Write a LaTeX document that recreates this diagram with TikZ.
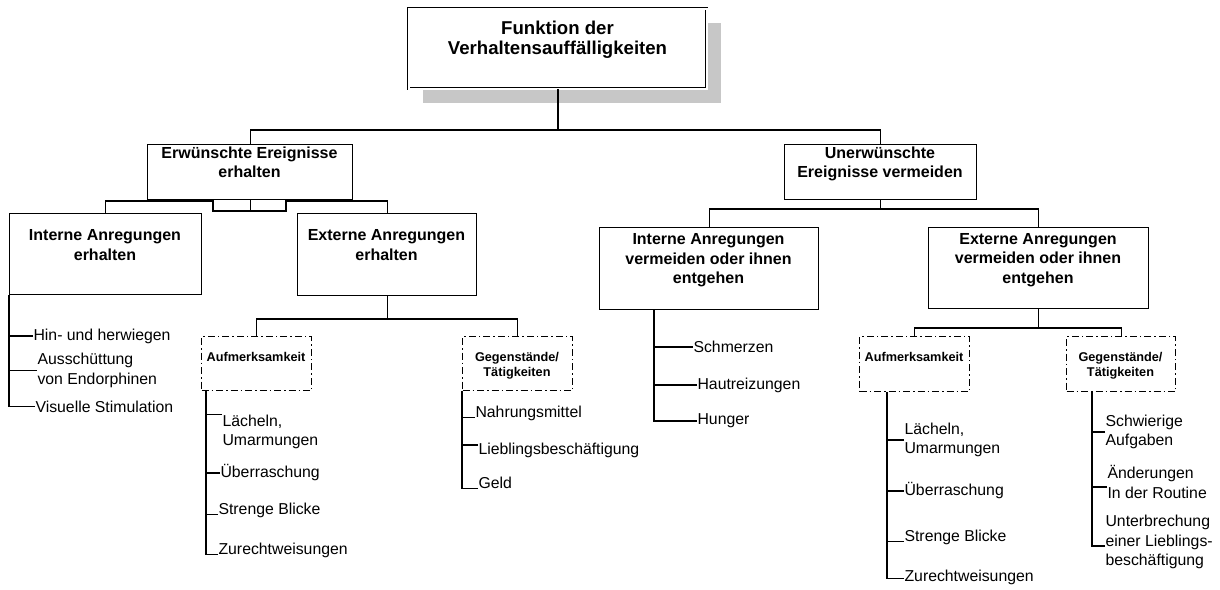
\documentclass[tikz,border=0pt]{standalone}
\usepackage{fontspec}
\setmainfont{Liberation Sans}
\usetikzlibrary{shadows}
\tikzset{
  every picture/.style={line width=1.1pt},
  box/.style 2 args={draw, fill=white, inner sep=0pt, minimum width=#1, minimum height=#2, anchor=north west},
  dbox/.style 2 args={box={#1}{#2}, dash pattern=on 7pt off 3pt on 1.5pt off 3pt},
  title/.style={font=\fontsize{18.6}{20.5}\selectfont\bfseries, align=center, inner sep=0pt, anchor=north},
  hd/.style={font=\fontsize{16}{19.5}\selectfont\bfseries, align=center, inner sep=0pt, anchor=north},
  sm/.style={font=\fontsize{12.7}{15}\selectfont\bfseries, align=center, inner sep=0pt, anchor=north},
  item/.style={font=\fontsize{15.8}{19.5}\selectfont, align=left, inner sep=0pt, anchor=west},
}
\begin{document}
\begin{tikzpicture}[x=1pt, y=1pt]
  \useasboundingbox (0,0) rectangle (1220,-589);
  % boxes
  \node[box={298pt}{80pt}, double, double distance=1.2pt, line width=0.9pt,
        drop shadow={shadow xshift=14pt, shadow yshift=-14pt, fill=black!22, opacity=1}]
        (root) at (408.5,-8.5) {};
  \node[title] (root-t) at (557.5,-20) {Funktion der\\Verhaltensauffälligkeiten};
  \node[box={205pt}{55pt}] (ee) at (147,-144) {};
  \node[hd] (ee-t) at (249.5,-146.3) {Erwünschte Ereignisse\\erhalten};
  \node[box={192pt}{55pt}] (ue) at (784,-144) {};
  \node[hd] (ue-t) at (880,-146.3) {Unerwünschte\\Ereignisse vermeiden};
  \node[box={192pt}{81pt}] (ie) at (9,-213) {};
  \node[hd] (ie-t) at (105,-229.3) {Interne Anregungen\\erhalten};
  \node[box={179pt}{82pt}] (ee2) at (297,-213) {};
  \node[hd] (ee2-t) at (386.5,-229.3) {Externe Anregungen\\erhalten};
  \node[box={219pt}{82pt}] (iv) at (599,-227) {};
  \node[hd] (iv-t) at (708.5,-233.3) {Interne Anregungen\\vermeiden oder ihnen\\entgehen};
  \node[box={220pt}{81pt}] (ev) at (928,-227) {};
  \node[hd] (ev-t) at (1038,-232.5) {Externe Anregungen\\vermeiden oder ihnen\\entgehen};
  \node[dbox={110pt}{54pt}] (am1) at (201,-336) {};
  \node[sm] (am1-t) at (256,-351.5) {Aufmerksamkeit};
  \node[dbox={110pt}{54pt}] (gt1) at (462,-336) {};
  \node[sm] (gt1-t) at (517,-351.5) {Gegenstände/\\Tätigkeiten};
  \node[dbox={110pt}{55pt}] (am2) at (859,-336) {};
  \node[sm] (am2-t) at (914,-351.5) {Aufmerksamkeit};
  \node[dbox={109pt}{55pt}] (gt2) at (1066,-336) {};
  \node[sm] (gt2-t) at (1120.5,-351.5) {Gegenstände/\\Tätigkeiten};
  % list items
  \node[item] (hin) at (33,-336) {Hin- und herwiegen};
  \node[item] (aus) at (37,-370.5) {Ausschüttung\\von Endorphinen};
  \node[item] (vis) at (35,-406.5) {Visuelle Stimulation};
  \node[item] (lae1) at (222,-432) {Lächeln,\\Umarmungen};
  \node[item] (ueb1) at (220,-473) {Überraschung};
  \node[item] (str1) at (218,-510) {Strenge Blicke};
  \node[item] (zur1) at (218,-550) {Zurechtweisungen};
  \node[item] (nah) at (475,-413) {Nahrungsmittel};
  \node[item] (lie) at (478,-450) {Lieblingsbeschäftigung};
  \node[item] (geld) at (478,-483) {Geld};
  \node[item] (sch) at (693,-347) {Schmerzen};
  \node[item] (hau) at (697,-385) {Hautreizungen};
  \node[item] (hun) at (697,-421) {Hunger};
  \node[item] (lae2) at (904,-440) {Lächeln,\\Umarmungen};
  \node[item] (ueb2) at (904,-491) {Überraschung};
  \node[item] (str2) at (904,-537) {Strenge Blicke};
  \node[item] (zur2) at (904,-577) {Zurechtweisungen};
  \node[item] (schw) at (1105,-432) {Schwierige\\Aufgaben};
  \node[item] (aend) at (1107,-482) {Änderungen\\In der Routine};
  \node[item] (unt) at (1105,-542) {Unterbrechung\\einer Lieblings-\\beschäftigung};
  % tree
  \draw (root.south) -- ++(0,-40);
  \draw (ee.north) -- ++(0,14) -| (ue.north);
  \coordinate (n1) at (213,-201);
  \coordinate (n2) at (286,-201);
  \draw (ee.south) -- ++(0,-12);
  \draw (ie.north) |- (n1) -- ++(0,-10) -| (n2) -| (ee2.north);
  \draw (ue.south) -- ++(0,-10);
  \draw (iv.north) -- ++(0,18) -| (ev.north);
  \draw (ee2.south) -- ++(0,-24);
  \draw (am1.north) -- ++(0,17) -| (gt1.north);
  \draw (ev.south) -- ++(0,-20);
  \draw (am2.north) -- ++(0,8) -| (gt2.north);
  % lists
  \coordinate (am1-s) at ([xshift=5pt]am1.south west);
  \coordinate (iv-s) at ([xshift=55pt]iv.south west);
  \coordinate (am2-s) at ([xshift=28pt]am2.south west);
  \coordinate (gt2-s) at ([xshift=26pt]gt2.south west);
  \foreach \b/\a in {hin.west/ie.south west, aus.west/ie.south west, vis.west/ie.south west,
      lae1.north west/am1-s, ueb1.west/am1-s, str1.base west/am1-s, zur1.base west/am1-s,
      nah.base west/gt1.south west, geld.base west/gt1.south west,
      sch.west/iv-s, hau.west/iv-s, hun.west/iv-s,
      lae2.west/am2-s, ueb2.west/am2-s, str2.base west/am2-s, zur2.mid west/am2-s,
      schw.west/gt2-s}
    \draw (\b) -| (\a);
  \draw ([yshift=5pt]lie.west) -| (gt1.south west);
  \draw ([yshift=-5pt]aend.west) -| (gt2-s);
  \draw ([yshift=-4pt]unt.west) -| (gt2-s);
\end{tikzpicture}
\end{document}
